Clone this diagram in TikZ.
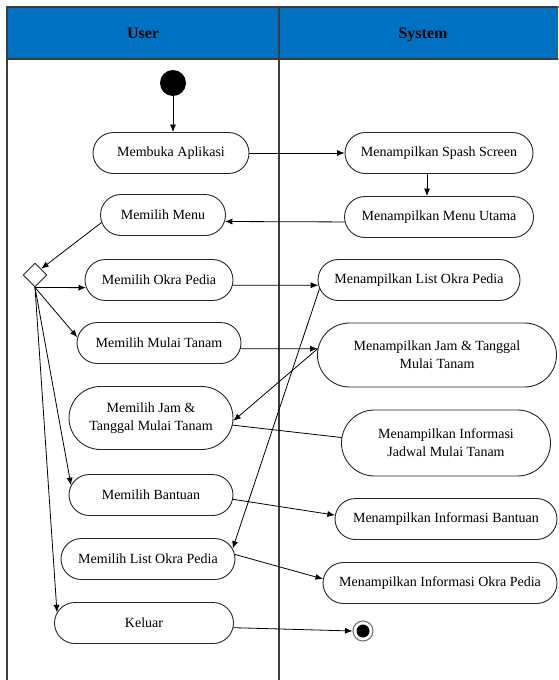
\documentclass[tikz,border=0pt]{standalone}
\usepackage{fontspec}
\setmainfont{Liberation Serif}
\usetikzlibrary{arrows.meta,shapes.geometric,shapes.misc}

\definecolor{testata}{RGB}{0,112,192}
\definecolor{bordo}{RGB}{60,60,60}

\tikzset{
  azione/.style={rounded rectangle, draw=black!85, line width=0.9pt,
    minimum height=41pt, inner sep=0pt, align=center,
    font=\fontsize{14}{18}\selectfont},
  corsia/.style={anchor=base, font=\bfseries\fontsize{16}{18}\selectfont},
  freccia/.style={-{Latex[length=7.5pt,width=6pt]}, line width=0.8pt},
  linea/.style={line width=0.8pt},
}

\begin{document}
\begin{tikzpicture}[x=1pt, y=-1pt, line cap=round, line join=round]
\useasboundingbox (0,0) rectangle (558,680);

% Corsie
\fill[testata] (7,7) rectangle (558,59);
\draw[bordo, line width=1.4pt] (558,7) -- (7,7) -- (7,680);
\draw[bordo, line width=1.4pt] (7,59) -- (558,59);
\draw[bordo, line width=1.4pt] (279,7) -- (279,680);
\node[corsia] (user) at (143,38.5) {User};
\node[corsia] (system) at (423,38.5) {System};

% Inizio e fine
\node[circle, fill, minimum size=26pt, inner sep=0pt] (inizio) at (173,83) {};
\node[circle, draw=black!55, line width=1.1pt, minimum size=20pt, inner sep=0pt] (fine) at (363,631) {};
\fill (fine) circle (6.5pt);

% Decisione
\node[diamond, draw=black!85, line width=0.9pt, minimum size=24pt, inner sep=0pt] (scelta) at (35,275) {};

% Azioni User
\node[azione, minimum width=156pt] (membuka) at (171,153) {Membuka Aplikasi};
\node[azione, minimum width=125pt] (menu) at (163,215) {Memilih Menu};
\node[azione, minimum width=148pt] (okra) at (159,280) {Memilih Okra Pedia};
\node[azione, minimum width=164pt] (mulai) at (159,343) {Memilih Mulai Tanam};
\node[azione, minimum width=164pt, minimum height=63pt] (jam) at (151,418) {Memilih Jam \&\\Tanggal Mulai Tanam};
\node[azione, minimum width=164pt] (bantuan) at (151,495) {Memilih Bantuan};
\node[azione, minimum width=174pt] (listokra) at (148,559) {Memilih List Okra Pedia};
\node[azione, minimum width=179pt] (keluar) at (144,623) {Keluar};

% Azioni System
\node[azione, minimum width=188pt] (spash) at (439,153) {Menampilkan Spash Screen};
\node[azione, minimum width=189pt] (utama) at (439,217) {Menampilkan Menu Utama};
\node[azione, minimum width=202pt] (tampillist) at (419,280) {Menampilkan List Okra Pedia};
\node[azione, minimum width=239pt, minimum height=64pt] (tampiljam) at (437,355) {Menampilkan Jam \& Tanggal\\Mulai Tanam};
\node[azione, minimum width=209pt, minimum height=66pt] (jadwal) at (446,443) {Menampilkan Informasi\\Jadwal Mulai Tanam};
\node[azione, minimum width=222pt] (infobantuan) at (446,519) {Menampilkan Informasi Bantuan};
\node[azione, minimum width=234pt] (infookra) at (440,583) {Menampilkan Informasi Okra Pedia};

% Flusso
\draw[freccia] (inizio.south) -- (inizio.south |- membuka.north);
\draw[freccia] (membuka.east) -- (spash.west);
\draw[freccia] ([xshift=-12pt]spash.south) -- ([xshift=-12pt]utama.north);
\draw[freccia] (utama.183) -- (menu.-6);
\draw[freccia] (menu.187) -- (scelta.north east);

% Rami dalla decisione
\draw[freccia] (scelta.south) -- (okra.186);
\draw[freccia] (scelta.south) -- (mulai.176);
\draw[freccia] (scelta.south) -- (bantuan.173);
\draw[freccia] (scelta.south) -- (keluar.173);

% Risposte del sistema
\draw[freccia] (okra.-4) -- (tampillist.183);
\draw[freccia] (tampillist.185) -- (listokra.7);
\draw[freccia] (mulai.-4) -- (tampiljam.177);
\draw[freccia] (tampiljam.177) -- (jam.-2);
\draw[linea] (jam.-5) -- (jadwal.177);
\draw[freccia] (bantuan.-3) -- (infobantuan.178);
\draw[freccia] (listokra.3) -- (infookra.178);
\draw[freccia] (keluar.-3) -- (fine.west);

\end{tikzpicture}
\end{document}
